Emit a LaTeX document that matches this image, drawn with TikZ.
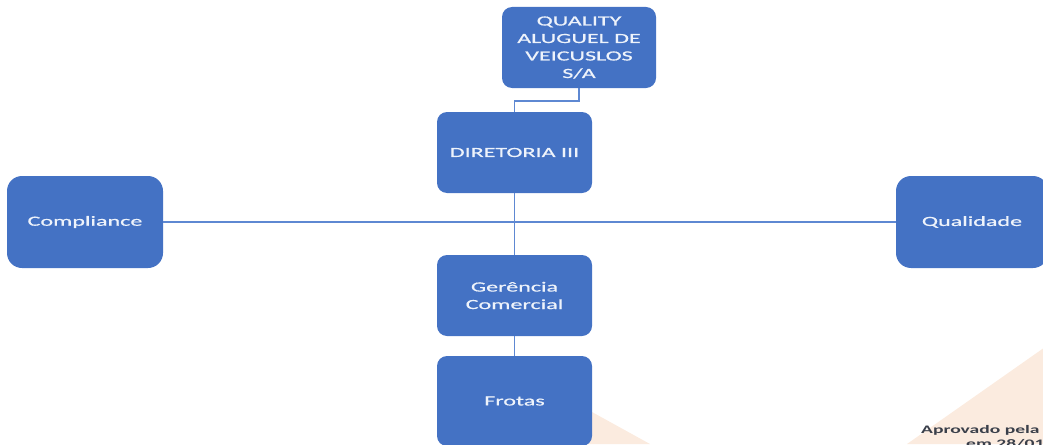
\documentclass[tikz,border=0pt]{standalone}
\usepackage{fontspec}
\setmainfont{Carlito}
\newfontfamily\boxfont[FakeStretch=1.72,FakeBold=0.7]{Carlito}
\newfontfamily\notefont[FakeStretch=1.7]{Carlito}
\definecolor{boxblue}{HTML}{4472C4}
\definecolor{linkblue}{HTML}{5E88D2}
\definecolor{peach}{HTML}{FBEBDF}
\definecolor{notegrey}{HTML}{3A3F4A}
\definecolor{boxtext}{HTML}{EEF3FB}
\tikzset{
  orgbox/.style={draw=none, fill=boxblue, rounded corners=10pt, inner sep=0pt,
    text=boxtext, align=center, font=\boxfont\fontsize{14}{17.5}\selectfont},
  sidebox/.style={orgbox, rounded corners=15pt},
  link/.style={draw=linkblue, line width=1.8pt}
}
\begin{document}
\begin{tikzpicture}[x=1pt,y=-1pt]
  \useasboundingbox (0,0) rectangle (1043,444);
  \clip (0,0) rectangle (1043,444);
  % background ribbons
  \fill[peach] (520,372.3) -- (650,444) -- (520,444) -- cycle;
  \fill[peach] (907,444) -- (1043,348.5) -- (1043,444) -- cycle;
  % boxes
  \node[orgbox, minimum width=154pt, minimum height=81pt] (top) at (579,47.5)
    {QUALITY\\ALUGUEL DE\\VEICUSLOS\\S/A};
  \node[orgbox, minimum width=155pt, minimum height=81pt] (dir) at (514.5,152.5)
    {DIRETORIA III};
  \node[sidebox, minimum width=156pt, minimum height=92pt] (comp) at (85,222)
    {Compliance};
  \node[sidebox, minimum width=152pt, minimum height=92pt] (qual) at (972,222)
    {Qualidade};
  \node[orgbox, minimum width=155pt, minimum height=81pt] (ger) at (514.5,295.5)
    {Gerência\\Comercial};
  \node[orgbox, minimum width=155pt, minimum height=90pt] (fro) at (514.5,401)
    {Frotas};
  % connectors
  \draw[link] (top.south) -- ++(0,12.5) -| (dir.north);
  \draw[link] (comp.east) -- (qual.west);
  \draw[link] (dir.south) -- (ger.north);
  \draw[link] (ger.south) -- (fro.north);
  % approval note
  \node[anchor=base west, inner sep=0pt, text=notegrey,
    font=\notefont\bfseries\fontsize{11.5}{14}\selectfont] (note1) at (921,433) {Aprovado pela};
  \node[anchor=base west, inner sep=0pt, text=notegrey,
    font=\notefont\bfseries\fontsize{11.5}{14}\selectfont] (note2) at (966,447) {em 28/01};
\end{tikzpicture}
\end{document}
